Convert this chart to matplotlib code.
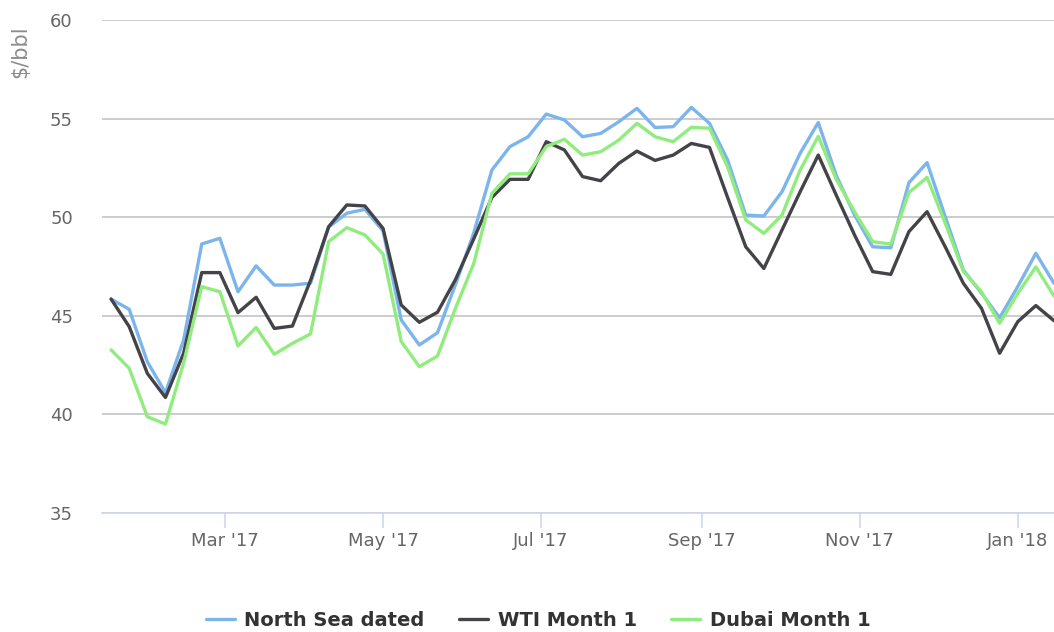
import matplotlib
matplotlib.use("Agg")
import matplotlib.pyplot as plt
import matplotlib.dates as mdates
import pandas as pd

# weekly prices, $/bbl
weeks = pd.date_range("2017-01-16", periods=53, freq="7D")

north_sea = [45.85, 45.33, 42.67, 41.1, 43.77, 48.64, 48.93, 46.22, 47.53, 46.56,
             46.56, 46.65, 49.5, 50.2, 50.4, 49.3, 44.79, 43.52, 44.14, 46.6,
             49.2, 52.39, 53.58, 54.08, 55.23, 54.93, 54.08, 54.25, 54.84, 55.52,
             54.55, 54.59, 55.57, 54.76, 52.9, 50.11, 50.06, 51.29, 53.24, 54.8,
             52.1, 50.11, 48.5, 48.45, 51.75, 52.77, 50.03, 47.32, 46.15, 44.9,
             46.48, 48.17, 46.65]

wti = [45.85, 44.45, 42.08, 40.86, 43.1, 47.19, 47.19, 45.16, 45.94, 44.36,
       44.48, 46.8, 49.52, 50.62, 50.57, 49.43, 45.55, 44.67, 45.18, 46.85,
       48.9, 51.0, 51.92, 51.92, 53.83, 53.41, 52.06, 51.85, 52.73, 53.35,
       52.88, 53.15, 53.74, 53.54, 51.0, 48.5, 47.4, 49.35, 51.29, 53.15,
       51.1, 49.1, 47.24, 47.1, 49.27, 50.28, 48.5, 46.65, 45.38, 43.1,
       44.7, 45.52, 44.75]

dubai = [43.27, 42.34, 39.88, 39.51, 42.6, 46.48, 46.22, 43.47, 44.41, 43.05,
         43.6, 44.08, 48.76, 49.47, 49.1, 48.13, 43.7, 42.42, 42.96, 45.4,
         47.65, 51.2, 52.2, 52.2, 53.58, 53.95, 53.15, 53.32, 53.91, 54.76,
         54.08, 53.83, 54.56, 54.51, 52.56, 49.86, 49.18, 50.11, 52.39, 54.1,
         51.9, 50.28, 48.76, 48.64, 51.25, 52.02, 49.7, 47.25, 46.22, 44.62,
         46.13, 47.48, 46.0]

series = [("North Sea dated", north_sea, "#7cb5ec"),
          ("WTI Month 1", wti, "#434348"),
          ("Dubai Month 1", dubai, "#90ed7d")]

fig = plt.figure(figsize=(10.54, 6.32), dpi=100)
ax = fig.add_axes([102 / 1054, 1 - 513 / 632, 1 - 102 / 1054, (513 - 20) / 632])

for name, vals, col in series:
    ax.plot(weeks, vals, color=col, lw=2.4, label=name,
            solid_joinstyle="round", solid_capstyle="round")

ax.set_ylim(35, 60)
ax.set_yticks(range(35, 61, 5))
ax.set_xlim(pd.Timestamp("2017-01-12 12:00"), pd.Timestamp("2018-01-15"))
ax.xaxis.set_major_locator(mdates.MonthLocator(bymonth=[1, 3, 5, 7, 9, 11]))
ax.xaxis.set_major_formatter(mdates.DateFormatter("%b '%y"))

ax.grid(axis="y", color="#c4c4c4", lw=1.2)
ax.set_axisbelow(True)
for s in ["top", "right", "left"]:
    ax.spines[s].set_visible(False)
ax.spines["bottom"].set_color("#ccd6eb")
ax.spines["bottom"].set_linewidth(1.2)
ax.spines["bottom"].set_zorder(2.5)

ax.tick_params(axis="y", length=0, pad=21, labelsize=13, labelcolor="#666666")
ax.tick_params(axis="x", length=10.8, width=1.1, color="#ccd6eb", pad=3,
               labelsize=13, labelcolor="#666666")

fig.text(20 / 1054, 1 - 52 / 632, "\\$/bbl", rotation=90, ha="center", va="center",
         fontsize=15, color="#8c8c8c")

fig.legend(loc="center", bbox_to_anchor=(538 / 1054, 12 / 632), ncol=3, frameon=False,
           prop={"size": 14, "weight": "bold"}, handlelength=1.5, handletextpad=0.5,
           columnspacing=1.75, labelcolor="#333333")

fig.savefig("out.png", dpi=100)
